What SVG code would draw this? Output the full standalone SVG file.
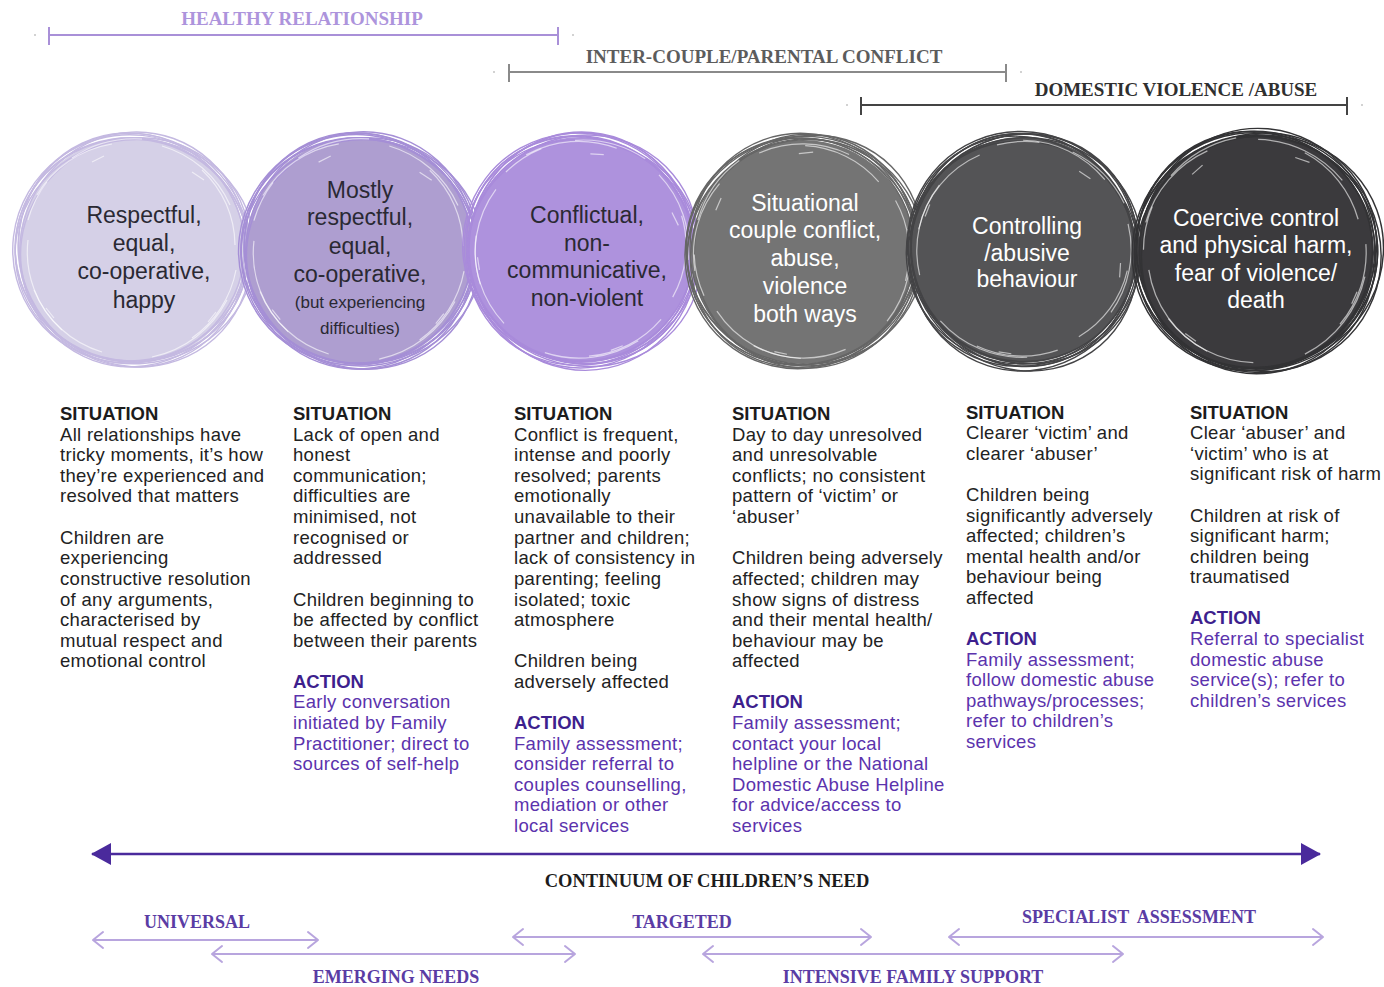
<svg xmlns="http://www.w3.org/2000/svg" xmlns:xlink="http://www.w3.org/1999/xlink" width="1384" height="987" viewBox="0 0 1384 987">
<style>
.hdr{font-family:"Liberation Serif",serif;font-weight:bold;font-size:19px;text-anchor:middle}
.ct{font-family:"Liberation Sans",Arial,sans-serif;font-size:23px;text-anchor:middle}
.ct .sm{font-size:17px}
.dark{fill:#2a2933}
.light{fill:#ffffff}
.col{font-family:"Liberation Sans",Arial,sans-serif;font-size:18.5px;letter-spacing:0.3px;fill:#222}
.col .h{font-weight:bold;fill:#1c1c1c;letter-spacing:0}
.col .ah{font-weight:bold;fill:#3d1f8e;letter-spacing:0}
.col .a{fill:#5b33ad}
.svc{font-family:"Liberation Serif",serif;font-weight:bold;font-size:18px;fill:#5a3ca4;text-anchor:middle}
.rng{fill:none;stroke-width:2}
.chev{fill:none;stroke:#b8a5de;stroke-width:2}
</style>
<defs>
<marker id="tri" viewBox="0 0 20 22" refX="19" refY="11" markerWidth="20" markerHeight="22" markerUnits="userSpaceOnUse" orient="auto-start-reverse">
<path d="M0 0 L20 11 L0 22 Z" fill="#4a2a9c"/>
</marker>
<marker id="chv" viewBox="-12 -10 14 20" refX="0" refY="0" markerWidth="14" markerHeight="20" markerUnits="userSpaceOnUse" orient="auto-start-reverse">
<path d="M-10 -8 L0 0 L-10 8" fill="none" stroke="#b8a5de" stroke-width="2" stroke-linecap="round" stroke-linejoin="round"/>
</marker>
<g id="scrib" fill="none" stroke="currentColor" stroke-width="1.4">
<ellipse rx="117" ry="112" transform="rotate(12)"/>
<ellipse rx="113" ry="118" transform="rotate(-25)"/>
<ellipse cx="2" cy="-2" rx="119" ry="114" transform="rotate(48)"/>
<ellipse cx="-2" cy="3" rx="114" ry="116" transform="rotate(75)"/>
<ellipse cx="1" cy="1" rx="118" ry="113" transform="rotate(-70)"/>
<ellipse rx="111" ry="117" transform="rotate(100)"/>
<ellipse cx="-3" cy="-1" rx="116" ry="110" transform="rotate(150)"/>
<ellipse cx="3" cy="2" rx="120" ry="112" transform="rotate(-5)"/>
<g stroke="#ffffff" stroke-opacity="0.6" stroke-width="1.2">
<path d="M-95 -55 A108 108 0 0 1 -20 -106"/>
<path d="M30 -104 A108 108 0 0 1 98 -45"/>
<path d="M104 20 A107 107 0 0 1 60 88"/>
<path d="M-30 102 A106 106 0 0 1 -98 40"/>
<path d="M-60 -92 A112 112 0 0 1 10 -111"/>
<path d="M70 -80 A104 104 0 0 1 103 -5"/>
<path d="M95 50 A110 110 0 0 1 20 107"/>
<path d="M-70 80 A105 105 0 0 1 -104 -10"/>
<path d="M-104 -30 A110 110 0 0 1 -85 -68"/>
<path d="M-40 -88 L-28 -94"/>
<path d="M60 -78 L72 -70"/>
<path d="M84 62 L76 72"/>
<path d="M-78 68 L-86 58"/>
</g>
</g>
</defs>
<rect width="1384" height="987" fill="#ffffff"/>

<g id="range-labels">
<text class="hdr" x="302" y="25" fill="#ad94dc">HEALTHY RELATIONSHIP</text>
<path class="rng" stroke="#a990d8" d="M49 35 H558 M49 27 V45 M558 27 V45"/>
<text class="hdr" x="764" y="63" fill="#5c5c5c">INTER-COUPLE/PARENTAL CONFLICT</text>
<path class="rng" stroke="#8a8a8a" d="M509 72 H1006 M509 64 V82 M1006 64 V82"/>
<text class="hdr" x="1176" y="96" fill="#2f2f2f">DOMESTIC VIOLENCE /ABUSE</text>
<path class="rng" stroke="#444444" d="M861 105 H1347 M861 97 V115 M1347 97 V115"/>
<g fill="#999">
<circle cx="35" cy="35" r="0.8"/><circle cx="573" cy="35" r="0.8"/>
<circle cx="494" cy="72" r="0.8"/><circle cx="1021" cy="72" r="0.8"/>
<circle cx="847" cy="105" r="0.8"/><circle cx="1362" cy="105" r="0.8"/>
</g>
</g>

<g id="node1">
<circle cx="132" cy="250" r="113" fill="#d5d0e7"/>
<use xlink:href="#scrib" href="#scrib" transform="translate(132 250)" style="color:#c4b9e1"/>
<text class="ct dark"><tspan x="144" y="223">Respectful,</tspan><tspan x="144" y="251">equal,</tspan><tspan x="144" y="279">co-operative,</tspan><tspan x="144" y="308">happy</tspan></text>
</g>
<g id="node2">
<circle cx="359" cy="251" r="114" fill="#ae9ed0"/>
<use xlink:href="#scrib" href="#scrib" transform="translate(359 251) scale(1.01)" style="color:#a58fd6"/>
<text class="ct dark"><tspan x="360" y="198">Mostly</tspan><tspan x="360" y="225">respectful,</tspan><tspan x="360" y="254">equal,</tspan><tspan x="360" y="282">co-operative,</tspan><tspan class="sm" x="360" y="308">(but experiencing</tspan><tspan class="sm" x="360" y="334">difficulties)</tspan></text>
</g>
<g id="node3">
<circle cx="581" cy="250" r="113" fill="#ae92dd"/>
<use xlink:href="#scrib" href="#scrib" transform="translate(581 250) rotate(30)" style="color:#a98bdb"/>
<text class="ct dark"><tspan x="587" y="223">Conflictual,</tspan><tspan x="587" y="251">non-</tspan><tspan x="587" y="278">communicative,</tspan><tspan x="587" y="306">non-violent</tspan></text>
</g>
<g id="node4">
<circle cx="803" cy="252" r="112" fill="#747474"/>
<use xlink:href="#scrib" href="#scrib" transform="translate(803 252) rotate(-40)" style="color:#666666"/>
<text class="ct light"><tspan x="805" y="211">Situational</tspan><tspan x="805" y="238">couple conflict,</tspan><tspan x="805" y="266">abuse,</tspan><tspan x="805" y="294">violence</tspan><tspan x="805" y="322">both ways</tspan></text>
</g>
<g id="node5">
<circle cx="1023" cy="250" r="113" fill="#545456"/>
<use xlink:href="#scrib" href="#scrib" transform="translate(1023 250) rotate(60)" style="color:#444446"/>
<text class="ct light"><tspan x="1027" y="234">Controlling</tspan><tspan x="1027" y="261">/abusive</tspan><tspan x="1027" y="287">behaviour</tspan></text>
</g>
<g id="node6">
<circle cx="1256" cy="252" r="118" fill="#3b3a3d"/>
<use xlink:href="#scrib" href="#scrib" transform="translate(1256 252) scale(1.04) rotate(-15)" style="color:#333335"/>
<text class="ct light"><tspan x="1256" y="226">Coercive control</tspan><tspan x="1256" y="253">and physical harm,</tspan><tspan x="1256" y="281">fear of violence/</tspan><tspan x="1256" y="308">death</tspan></text>
</g>

<g id="col1">
<text class="col">
<tspan class="h" x="60" y="420">SITUATION</tspan>
<tspan x="60" y="441">All relationships have</tspan>
<tspan x="60" y="461">tricky moments, it’s how</tspan>
<tspan x="60" y="482">they’re experienced and</tspan>
<tspan x="60" y="502">resolved that matters</tspan>
<tspan x="60" y="544">Children are</tspan>
<tspan x="60" y="564">experiencing</tspan>
<tspan x="60" y="585">constructive resolution</tspan>
<tspan x="60" y="606">of any arguments,</tspan>
<tspan x="60" y="626">characterised by</tspan>
<tspan x="60" y="647">mutual respect and</tspan>
<tspan x="60" y="667">emotional control</tspan>
</text>
</g>
<g id="col2">
<text class="col">
<tspan class="h" x="293" y="420">SITUATION</tspan>
<tspan x="293" y="441">Lack of open and</tspan>
<tspan x="293" y="461">honest</tspan>
<tspan x="293" y="482">communication;</tspan>
<tspan x="293" y="502">difficulties are</tspan>
<tspan x="293" y="523">minimised, not</tspan>
<tspan x="293" y="544">recognised or</tspan>
<tspan x="293" y="564">addressed</tspan>
<tspan x="293" y="606">Children beginning to</tspan>
<tspan x="293" y="626">be affected by conflict</tspan>
<tspan x="293" y="647">between their parents</tspan>
<tspan class="ah" x="293" y="688">ACTION</tspan>
<tspan class="a" x="293" y="708">Early conversation</tspan>
<tspan class="a" x="293" y="729">initiated by Family</tspan>
<tspan class="a" x="293" y="750">Practitioner; direct to</tspan>
<tspan class="a" x="293" y="770">sources of self-help</tspan>
</text>
</g>
<g id="col3">
<text class="col">
<tspan class="h" x="514" y="420">SITUATION</tspan>
<tspan x="514" y="441">Conflict is frequent,</tspan>
<tspan x="514" y="461">intense and poorly</tspan>
<tspan x="514" y="482">resolved; parents</tspan>
<tspan x="514" y="502">emotionally</tspan>
<tspan x="514" y="523">unavailable to their</tspan>
<tspan x="514" y="544">partner and children;</tspan>
<tspan x="514" y="564">lack of consistency in</tspan>
<tspan x="514" y="585">parenting; feeling</tspan>
<tspan x="514" y="606">isolated; toxic</tspan>
<tspan x="514" y="626">atmosphere</tspan>
<tspan x="514" y="667">Children being</tspan>
<tspan x="514" y="688">adversely affected</tspan>
<tspan class="ah" x="514" y="729">ACTION</tspan>
<tspan class="a" x="514" y="750">Family assessment;</tspan>
<tspan class="a" x="514" y="770">consider referral to</tspan>
<tspan class="a" x="514" y="791">couples counselling,</tspan>
<tspan class="a" x="514" y="811">mediation or other</tspan>
<tspan class="a" x="514" y="832">local services</tspan>
</text>
</g>
<g id="col4">
<text class="col">
<tspan class="h" x="732" y="420">SITUATION</tspan>
<tspan x="732" y="441">Day to day unresolved</tspan>
<tspan x="732" y="461">and unresolvable</tspan>
<tspan x="732" y="482">conflicts; no consistent</tspan>
<tspan x="732" y="502">pattern of ‘victim’ or</tspan>
<tspan x="732" y="523">‘abuser’</tspan>
<tspan x="732" y="564">Children being adversely</tspan>
<tspan x="732" y="585">affected; children may</tspan>
<tspan x="732" y="606">show signs of distress</tspan>
<tspan x="732" y="626">and their mental health/</tspan>
<tspan x="732" y="647">behaviour may be</tspan>
<tspan x="732" y="667">affected</tspan>
<tspan class="ah" x="732" y="708">ACTION</tspan>
<tspan class="a" x="732" y="729">Family assessment;</tspan>
<tspan class="a" x="732" y="750">contact your local</tspan>
<tspan class="a" x="732" y="770">helpline or the National</tspan>
<tspan class="a" x="732" y="791">Domestic Abuse Helpline</tspan>
<tspan class="a" x="732" y="811">for advice/access to</tspan>
<tspan class="a" x="732" y="832">services</tspan>
</text>
</g>
<g id="col5">
<text class="col">
<tspan class="h" x="966" y="419">SITUATION</tspan>
<tspan x="966" y="439">Clearer ‘victim’ and</tspan>
<tspan x="966" y="460">clearer ‘abuser’</tspan>
<tspan x="966" y="501">Children being</tspan>
<tspan x="966" y="522">significantly adversely</tspan>
<tspan x="966" y="542">affected; children’s</tspan>
<tspan x="966" y="563">mental health and/or</tspan>
<tspan x="966" y="583">behaviour being</tspan>
<tspan x="966" y="604">affected</tspan>
<tspan class="ah" x="966" y="645">ACTION</tspan>
<tspan class="a" x="966" y="666">Family assessment;</tspan>
<tspan class="a" x="966" y="686">follow domestic abuse</tspan>
<tspan class="a" x="966" y="707">pathways/processes;</tspan>
<tspan class="a" x="966" y="727">refer to children’s</tspan>
<tspan class="a" x="966" y="748">services</tspan>
</text>
</g>
<g id="col6">
<text class="col">
<tspan class="h" x="1190" y="419">SITUATION</tspan>
<tspan x="1190" y="439">Clear ‘abuser’ and</tspan>
<tspan x="1190" y="460">‘victim’ who is at</tspan>
<tspan x="1190" y="480">significant risk of harm</tspan>
<tspan x="1190" y="522">Children at risk of</tspan>
<tspan x="1190" y="542">significant harm;</tspan>
<tspan x="1190" y="563">children being</tspan>
<tspan x="1190" y="583">traumatised</tspan>
<tspan class="ah" x="1190" y="624">ACTION</tspan>
<tspan class="a" x="1190" y="645">Referral to specialist</tspan>
<tspan class="a" x="1190" y="666">domestic abuse</tspan>
<tspan class="a" x="1190" y="686">service(s); refer to</tspan>
<tspan class="a" x="1190" y="707">children’s services</tspan>
</text>
</g>

<g id="connectors">
<line x1="92" y1="854" x2="1320" y2="854" stroke="#4a2a9c" stroke-width="2.5" marker-start="url(#tri)" marker-end="url(#tri)"/>
<line class="chev" x1="93" y1="940" x2="318" y2="940" marker-start="url(#chv)" marker-end="url(#chv)"/>
<line class="chev" x1="212" y1="954" x2="575" y2="954" marker-start="url(#chv)" marker-end="url(#chv)"/>
<line class="chev" x1="513" y1="937" x2="871" y2="937" marker-start="url(#chv)" marker-end="url(#chv)"/>
<line class="chev" x1="703" y1="954" x2="1123" y2="954" marker-start="url(#chv)" marker-end="url(#chv)"/>
<line class="chev" x1="949" y1="937" x2="1323" y2="937" marker-start="url(#chv)" marker-end="url(#chv)"/>
</g>

<g id="axis-labels">
<text class="hdr" x="707" y="887" fill="#1c1c1c" style="font-size:18.5px">CONTINUUM OF CHILDREN’S NEED</text>
<text class="svc" x="197" y="928">UNIVERSAL</text>
<text class="svc" x="682" y="928">TARGETED</text>
<text class="svc" x="1139" y="923" xml:space="preserve">SPECIALIST  ASSESSMENT</text>
<text class="svc" x="396" y="983">EMERGING NEEDS</text>
<text class="svc" x="913" y="983">INTENSIVE FAMILY SUPPORT</text>
</g>
</svg>
